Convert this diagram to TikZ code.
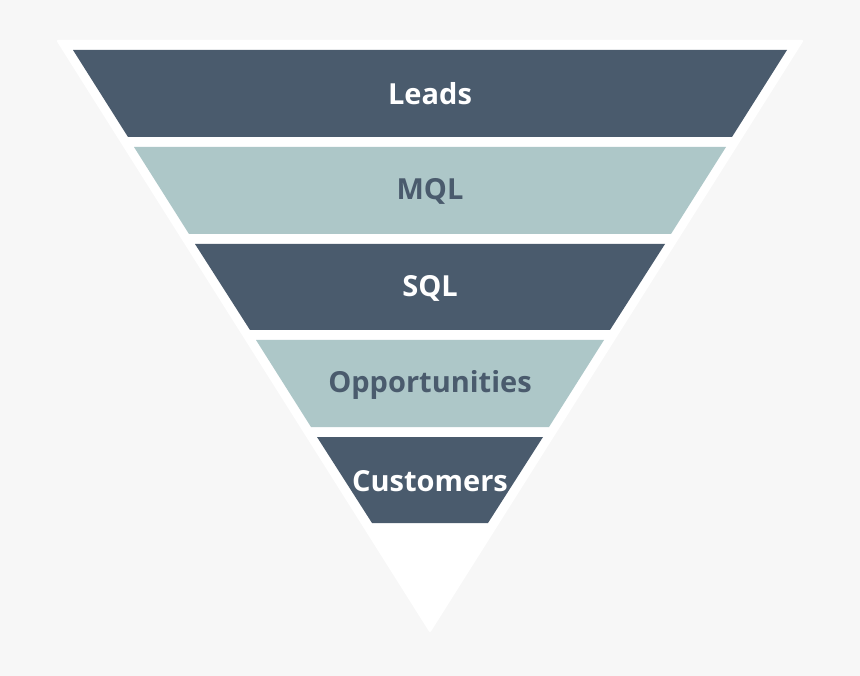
\documentclass[tikz,border=0pt]{standalone}
\usepackage{fontspec}
\setmainfont{Open Sans}
\definecolor{bgc}{HTML}{F7F7F7}
\definecolor{darkband}{HTML}{4A5B6D}
\definecolor{lightband}{HTML}{ADC7C8}
\begin{document}
\begin{tikzpicture}[x=1pt,y=-1pt,
  darkfill/.style={fill=darkband},
  lightfill/.style={fill=lightband},
  lbl/.style={font=\fontsize{29}{34}\selectfont\bfseries, inner sep=0pt, anchor=center},
  darklbl/.style={lbl, text=white},
  lightlbl/.style={lbl, text=darkband}]
\useasboundingbox (0,0) rectangle (860,676);
\fill[bgc] (0,0) rectangle (860,676);
% white funnel
\fill[white, rounded corners=2pt] (56,40) -- (804,40) -- (430,633) -- cycle;
% bands
\fill[darkfill]  (73,50)  -- (787,50)  -- (732,137) -- (128,137) -- cycle;
\fill[lightfill] (134,147) -- (726,147) -- (671,234) -- (189,234) -- cycle;
\fill[darkfill]  (195,244) -- (665,244) -- (610,330) -- (250,330) -- cycle;
\fill[lightfill] (256,340) -- (604,340) -- (549,427) -- (311,427) -- cycle;
\fill[darkfill]  (317,437) -- (543,437) -- (488,523) -- (372,523) -- cycle;
% labels
\node[darklbl]  (leads) at (430,94)  {Leads};
\node[lightlbl] (mql)   at (430,191) {MQL};
\node[darklbl]  (sql)   at (430,288) {SQL};
\node[lightlbl] (opp)   at (430,385) {Opportunities};
\node[darklbl]  (cust)  at (430,481) {Customers};
\end{tikzpicture}
\end{document}
